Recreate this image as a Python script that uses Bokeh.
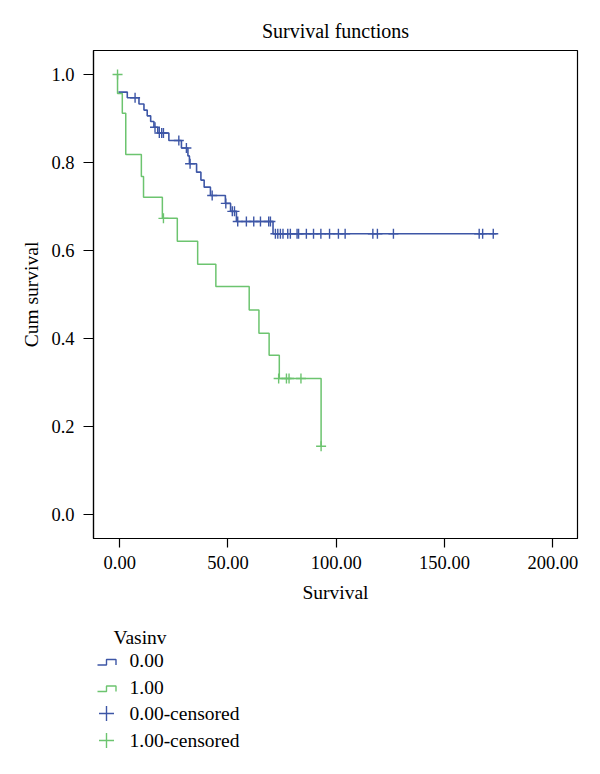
from bokeh.plotting import figure
from bokeh.layouts import column
from bokeh.models import FixedTicker, NumeralTickFormatter, Range1d, Title
from bokeh.embed import file_html
from bokeh.resources import INLINE
from bokeh.core.properties import value

FONT = "Liberation Serif"
BLUE = "#3d56a6"
GREEN = "#6cc46f"

# ---------------- data ----------------
# group Vasinv = 0.00 : step knots (time, cumulative survival)
g0_time = [-0.6, 3.5, 8.9, 11.2, 12.7, 14.3, 15.8, 17.6, 22.7, 28.5, 31.5, 32.2,
           35.5, 37.5, 39.0, 41.9, 48.8, 51.2, 53.9, 70.8, 174.0]
g0_surv = [0.960, 0.947, 0.933, 0.919, 0.906, 0.893, 0.880, 0.867, 0.850, 0.833, 0.815, 0.797,
           0.778, 0.760, 0.744, 0.725, 0.707, 0.689, 0.666, 0.638, 0.638]
# censored cases, group 0.00
g0_cens_time = [7.1, 16.3, 18.3, 19.4, 20.2, 27.3, 30.8, 32.5, 42.7, 49.0, 52.0, 53.0,
                54.5, 58.5, 61.9, 65.0, 68.8, 69.6,
                71.9, 73.0, 74.2, 75.4, 77.6, 78.8, 81.9, 82.6, 86.2, 89.5, 92.9, 96.9,
                101.0, 104.1, 116.9, 119.0, 126.4, 166.0, 167.6, 172.5]
g0_cens_surv = [0.947, 0.880, 0.867, 0.867, 0.867, 0.850, 0.833, 0.797, 0.725, 0.707, 0.689, 0.689,
                0.666, 0.666, 0.666, 0.666, 0.666, 0.666,
                0.638, 0.638, 0.638, 0.638, 0.638, 0.638, 0.638, 0.638, 0.638, 0.638, 0.638, 0.638,
                0.638, 0.638, 0.638, 0.638, 0.638, 0.638, 0.638, 0.638]

# group Vasinv = 1.00
g1_time = [-1.0, -1.0, 1.2, 2.8, 10.0, 11.0, 19.7, 26.6, 36.0, 44.4, 59.8, 64.3, 69.0, 73.7, 93.0]
g1_surv = [1.000, 0.957, 0.912, 0.818, 0.768, 0.721, 0.673, 0.621, 0.569, 0.518, 0.465, 0.412,
           0.362, 0.309, 0.155]
g1_cens_time = [-1.0, 20.2, 73.4, 77.0, 78.2, 83.7, 93.0]
g1_cens_surv = [1.000, 0.673, 0.309, 0.309, 0.309, 0.309, 0.155]

x_ticks = [0, 50, 100, 150, 200]
y_ticks = [0.0, 0.2, 0.4, 0.6, 0.8, 1.0]
title_text = "Survival functions"
x_label = "Survival"
y_label = "Cum survival"
legend_title = "Vasinv"
legend_labels = ["0.00", "1.00", "0.00-censored", "1.00-censored"]

# ---------------- layout constants ----------------
LEFT, RIGHT, FW = 93, 23, 484
TOP, FH, BOTTOM = 50, 488, 72
TXT = "19.5px"
TICK_TXT = "18.5px"

# ---------------- main plot ----------------
p = figure(frame_width=FW, frame_height=FH,
           x_range=Range1d(-12.1, 211.4), y_range=Range1d(-0.0545, 1.0545),
           min_border_left=LEFT, min_border_right=RIGHT, min_border_top=TOP, min_border_bottom=BOTTOM,
           toolbar_location=None, output_backend="svg", background_fill_color="white",
           border_fill_color="white")

p.add_layout(Title(text=title_text, align="center", text_font=FONT, text_font_size="20px",
                   text_font_style="normal", text_color="black", standoff=17), "above")

p.step(g0_time, g0_surv, mode="after", line_color=BLUE, line_width=1.6)
p.step(g1_time, g1_surv, mode="after", line_color=GREEN, line_width=1.5)
p.scatter(g0_cens_time, g0_cens_surv, marker="cross", size=10, line_color=BLUE, line_width=1.4)
p.scatter(g1_cens_time, g1_cens_surv, marker="cross", size=10, line_color=GREEN, line_width=1.4)

p.grid.visible = False
p.outline_line_color = "black"
p.outline_line_width = 1.2
p.outline_line_alpha = 1.0

p.xaxis.ticker = FixedTicker(ticks=x_ticks)
p.yaxis.ticker = FixedTicker(ticks=y_ticks)
p.xaxis.formatter = NumeralTickFormatter(format="0.00")
p.yaxis.formatter = NumeralTickFormatter(format="0.0")
p.xaxis.axis_label = x_label
p.yaxis.axis_label = y_label
for ax in (p.xaxis, p.yaxis):
    ax.axis_line_color = "black"
    ax.axis_line_width = 1.2
    ax.major_tick_line_color = "black"
    ax.major_tick_line_width = 1.2
    ax.major_tick_in = 0
    ax.minor_tick_line_color = None
    ax.major_label_text_font = FONT
    ax.major_label_text_font_size = TICK_TXT
    ax.major_label_text_color = "black"
    ax.axis_label_text_font = FONT
    ax.axis_label_text_font_size = TXT
    ax.axis_label_text_font_style = "normal"
    ax.axis_label_text_color = "black"
p.xaxis.major_tick_out = 9
p.yaxis.major_tick_out = 10
p.xaxis.major_label_standoff = 8
p.yaxis.major_label_standoff = 9
p.xaxis.axis_label_standoff = 10
p.yaxis.axis_label_standoff = 6

# ---------------- legend (separate panel, frame aligned with main frame; page pixel coords) ----------------
LEG_TOP = TOP + FH + BOTTOM
LEG_H = 156
leg = figure(frame_width=FW, frame_height=LEG_H,
             x_range=Range1d(LEFT, LEFT + FW), y_range=Range1d(LEG_TOP + LEG_H, LEG_TOP),
             min_border_left=LEFT, min_border_right=RIGHT, min_border_top=0, min_border_bottom=0,
             toolbar_location=None, output_backend="svg")
leg.axis.visible = False
leg.grid.visible = False
leg.outline_line_color = None

icon_l, icon_m, icon_r = 97, 106, 115.5
text_x = 129
title_y = 637
row_y = [660, 686.5, 713, 740]
colors = [BLUE, GREEN, BLUE, GREEN]

leg.text([113], [title_y], text=[legend_title], text_font=value(FONT), text_font_size=TXT,
         text_baseline="middle", text_align="left", text_color="black")
leg.text([text_x] * 4, row_y, text=legend_labels, text_font=value(FONT), text_font_size=TXT,
         text_baseline="middle", text_align="left", text_color="black")
for i in range(2):
    y = row_y[i]
    leg.line([icon_l, icon_m, icon_m, icon_r, icon_r], [y + 4.5, y + 4.5, y - 1, y - 1, y + 4.5],
             line_color=colors[i], line_width=1.4)
for i in range(2, 4):
    leg.scatter([icon_m], [row_y[i]], marker="cross", size=15, line_color=colors[i], line_width=1.4)

layout = column(p, leg, spacing=0)
open("out.html", "w").write(file_html(layout, INLINE))
